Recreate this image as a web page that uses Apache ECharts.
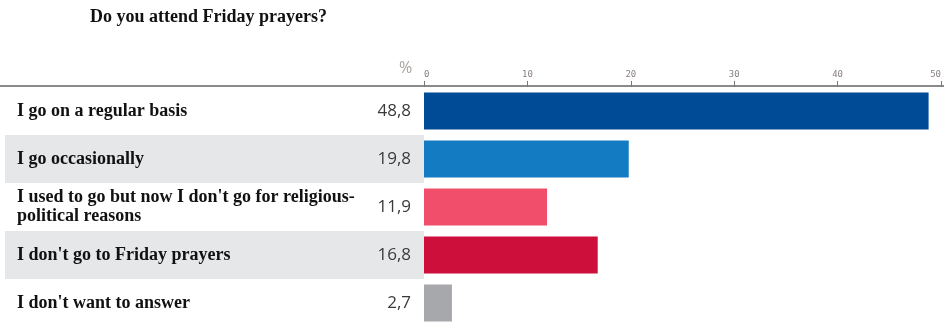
<!DOCTYPE html>
<html><head><meta charset="utf-8">
<script src="https://cdn.jsdelivr.net/npm/echarts@6/dist/echarts.min.js"></script>
<style>html,body{margin:0;padding:0;background:#fff}#c{width:944px;height:327px}</style>
</head><body><div id="c"></div>
<script>
const titleText = 'Do you attend Friday prayers?';
const categories = ['I go on a regular basis', 'I go occasionally', "I used to go but now I don't go for religious-\npolitical reasons", "I don't go to Friday prayers", "I don't want to answer"];
const values = [48.8, 19.8, 11.9, 16.8, 2.7];
const valueLabels = ['48,8', '19,8', '11,9', '16,8', '2,7'];
const barColors = ['#004b96', '#127bc2', '#f04e6a', '#cc0f3b', '#a7a8ab'];
const shaded = [false, true, false, true, false];
const tickMin = 0, tickMax = 50, tickStep = 10;

const chart = echarts.init(document.getElementById('c'));
const serif = '"Liberation Serif", "DejaVu Serif", serif';
chart.setOption({
  animation: false,
  title: [
    {text: titleText, left: 85, top: 3, textStyle: {fontFamily: serif, fontWeight: 'bold', fontSize: 18, color: '#111'}},
    {text: '%', left: 394, top: 55, textStyle: {fontFamily: '"Open Sans", sans-serif', fontWeight: 'normal', fontSize: 16, color: '#a9a19c'}}
  ],
  grid: [
    {left: 424, right: 1, top: 87, bottom: -7},
    {left: 0, right: 0, top: 85, height: 1}
  ],
  xAxis: [
    {type: 'value', gridIndex: 0, position: 'top', min: tickMin, max: tickMax, interval: tickStep,
     axisLine: {show: false},
     axisTick: {show: true, length: 6, lineStyle: {color: '#777', width: 1}},
     splitLine: {show: false},
     axisLabel: {margin: 8, fontSize: 9, color: '#8a8080', fontFamily: '"DejaVu Sans Mono", monospace', alignMinLabel: 'left', alignMaxLabel: 'right'}},
    {type: 'value', gridIndex: 1, position: 'top', min: 0, max: 1,
     axisLine: {show: true, lineStyle: {color: '#8a8a8a', width: 2}},
     axisTick: {show: false}, axisLabel: {show: false}, splitLine: {show: false}}
  ],
  yAxis: [
    {type: 'category', gridIndex: 0, data: categories, inverse: true,
     axisLine: {show: false}, axisTick: {show: false},
     axisLabel: {margin: 419, align: 'left',
       formatter: (v, i) => (shaded[i] ? '{g|' : '{w|') + v + '}',
       rich: {
         g: {backgroundColor: '#e6e7e9', width: 407, height: 48, padding: [0, 0, 0, 12], fontFamily: serif, fontWeight: 'bold', fontSize: 18, color: '#111'},
         w: {width: 407, padding: [0, 0, 0, 12], lineHeight: 19, fontFamily: serif, fontWeight: 'bold', fontSize: 18, color: '#111'}
       }}},
    {type: 'category', gridIndex: 0, data: categories, inverse: true, position: 'left',
     axisLine: {show: false}, axisTick: {show: false},
     axisLabel: {margin: 13, formatter: (v, i) => valueLabels[i], fontSize: 17, color: '#3a3a3a', fontFamily: '"Open Sans", sans-serif'}},
    {type: 'value', gridIndex: 1, show: false}
  ],
  series: [{
    type: 'bar', xAxisIndex: 0, yAxisIndex: 0, barWidth: 37,
    data: values.map((v, i) => ({value: v, itemStyle: {color: barColors[i]}}))
  }]
});
</script></body></html>
